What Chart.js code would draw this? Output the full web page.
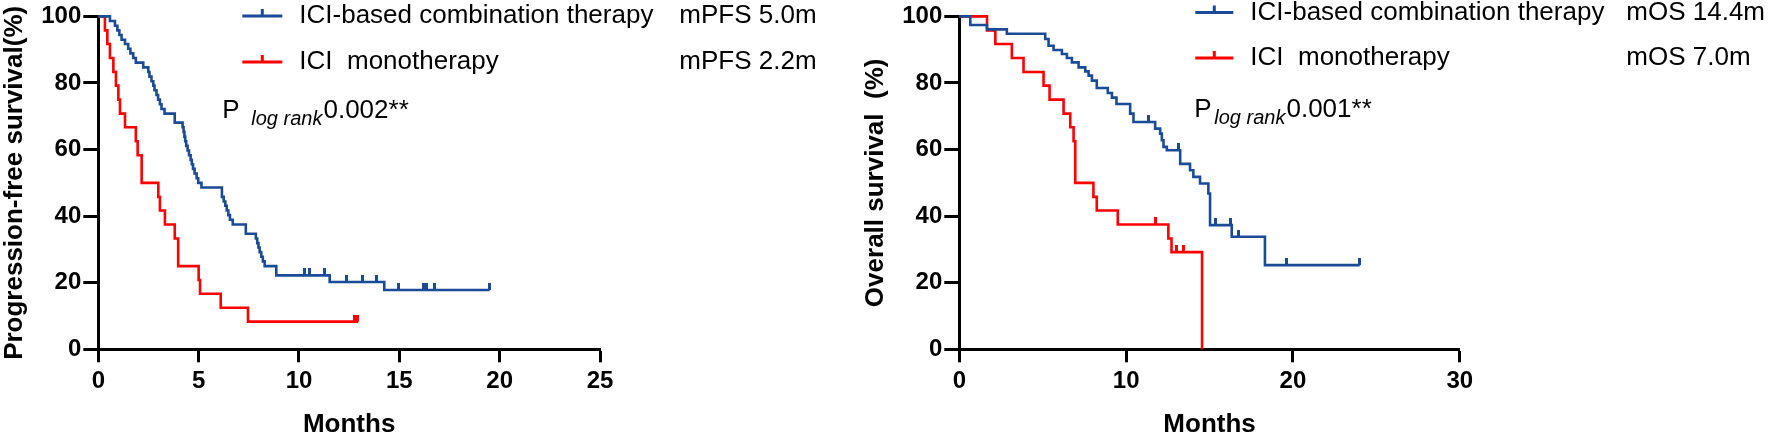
<!DOCTYPE html>
<html>
<head>
<meta charset="utf-8">
<script src="https://cdn.jsdelivr.net/npm/chart.js@4.4.1/dist/chart.umd.min.js"></script>
<style>
html, body { margin: 0; padding: 0; background: #fff; }
#wrap { position: relative; width: 1772px; height: 435px; overflow: hidden; }
canvas { position: absolute; top: 0; }
</style>
</head>
<body>
<div id="wrap">
  <canvas id="pfs" width="861" height="435" style="left:0;width:861px;height:435px"></canvas>
  <canvas id="os" width="911" height="435" style="left:861px;width:911px;height:435px"></canvas>
</div>
<script>
// Kaplan-Meier steps (months, survival %)
var pfsComboTime = [0, 0.58, 0.83, 0.95, 1.05, 1.16, 1.33, 1.49, 1.60, 1.74, 1.87, 2.24, 2.49, 2.55, 2.65, 2.74, 2.80, 2.90, 2.98, 3.07, 3.15, 3.30, 3.81, 4.20, 4.25, 4.29, 4.33, 4.38, 4.45, 4.52, 4.60, 4.66, 4.72, 4.80, 4.90, 4.98, 5.14, 6.16, 6.25, 6.33, 6.40, 6.48, 6.56, 6.70, 7.35, 7.85, 7.92, 7.98, 8.04, 8.12, 8.20, 8.29, 8.87, 11.53, 14.25, 19.5];
var pfsComboSurv = [100, 98.6, 97.2, 95.8, 94.4, 93.0, 91.7, 90.3, 88.9, 87.5, 86.1, 84.7, 83.3, 81.9, 80.5, 79.2, 77.8, 76.4, 75.0, 73.6, 72.2, 70.8, 68.1, 66.7, 65.3, 63.9, 62.5, 61.1, 59.7, 58.3, 56.9, 55.6, 54.2, 52.8, 51.4, 50.0, 48.6, 45.8, 44.4, 43.1, 41.7, 40.3, 38.9, 37.5, 34.7, 33.3, 31.9, 30.6, 29.2, 27.8, 26.4, 25.0, 22.2, 20.2, 17.8, 17.8];
var pfsComboCensor = [10.29, 10.54, 11.29, 12.36, 13.19, 13.85, 14.94, 16.2, 16.35, 16.77, 19.5];

var pfsMonoTime = [0, 0.33, 0.45, 0.58, 0.75, 0.88, 1.0, 1.08, 1.33, 1.87, 1.96, 2.16, 2.99, 3.07, 3.32, 3.81, 3.98, 5.0, 5.07, 6.1, 7.46, 12.94];
var pfsMonoSurv = [100, 95.8, 91.7, 87.5, 83.3, 79.2, 75.0, 70.8, 66.7, 62.5, 58.3, 50.0, 45.8, 41.7, 37.5, 33.3, 25.0, 20.8, 16.7, 12.5, 8.3, 8.3];
var pfsMonoCensor = [12.77, 12.94];

var osComboTime = [0, 0.66, 1.66, 2.85, 5.15, 5.35, 5.65, 6.15, 6.45, 6.75, 7.15, 7.55, 7.75, 7.95, 8.24, 8.9, 9.15, 9.42, 10.24, 10.44, 11.74, 12.04, 12.14, 12.24, 12.44, 13.24, 13.83, 14.03, 14.43, 14.93, 15.03, 16.33, 18.32, 24.0];
var osComboSurv = [100, 97.4, 96.1, 94.8, 93.2, 91.2, 89.9, 88.7, 87.5, 86.2, 84.7, 83.5, 82.2, 80.7, 78.5, 77.0, 75.6, 73.7, 70.8, 68.3, 66.3, 64.8, 62.8, 60.8, 59.8, 55.7, 53.8, 51.8, 49.8, 46.8, 37.3, 33.8, 25.3, 25.3];
var osComboCensor = [11.34, 13.14, 15.33, 16.23, 16.73, 19.6, 24.0];

var osMonoTime = [0, 1.66, 2.16, 3.15, 3.85, 5.05, 5.41, 6.25, 6.65, 6.85, 6.95, 8.04, 8.24, 9.5, 12.53, 12.72, 14.55];
var osMonoSurv = [100, 95.8, 91.7, 87.5, 83.3, 79.2, 75.0, 70.8, 66.7, 62.5, 50.0, 45.8, 41.7, 37.5, 33.3, 29.2, 0];
var osMonoCensor = [11.74, 13.02, 13.42];

// texts
var seriesNames = ['ICI-based combination therapy', 'ICI  monotherapy'];
var pfsMedians = ['mPFS 5.0m', 'mPFS 2.2m'];
var osMedians = ['mOS 14.4m', 'mOS 7.0m'];
var pfsPValue = '0.002**';
var osPValue = '0.001**';
var pfsXTicks = [0, 25, 5];
var osXTicks = [0, 30, 10];

var BLUE = '#1b4a96';
var RED = '#ff0000';
var FONT = 'Arial, "Liberation Sans", sans-serif';

function toPoints(times, surv) {
  return times.map(function (t, i) { return { x: t, y: surv[i] }; });
}

// survival level of a curve at time t (for placing censor marks)
function survAt(times, surv, t) {
  var v = surv[0];
  for (var i = 0; i < times.length; i++) {
    if (times[i] <= t) v = surv[i];
  }
  return v;
}

function censorPoints(cens, times, surv) {
  return cens.map(function (t) { return { x: t, y: survAt(times, surv, t) }; });
}

// small upward tick used as censor mark
function censorMark(color) {
  var c = document.createElement('canvas');
  c.width = 3;
  c.height = 14;
  var g = c.getContext('2d');
  g.fillStyle = color;
  g.fillRect(0, 0, 3, 7);
  return c;
}

// legend, medians and log-rank p drawn next to the plot
var kmNotes = {
  id: 'kmNotes',
  afterDraw: function (chart, args, o) {
    var ctx = chart.ctx;
    var L = chart.chartArea.left;
    ctx.save();
    [BLUE, RED].forEach(function (col, i) {
      var y = o.rowY[i];
      ctx.strokeStyle = col;
      ctx.lineWidth = 3;
      ctx.beginPath();
      ctx.moveTo(L + o.lineX[0], y);
      ctx.lineTo(L + o.lineX[1], y);
      var mx = L + (o.lineX[0] + o.lineX[1]) / 2;
      ctx.moveTo(mx, y);
      ctx.lineTo(mx, y - 7);
      ctx.stroke();
      ctx.fillStyle = '#000';
      ctx.font = '26px ' + FONT;
      ctx.textBaseline = 'middle';
      ctx.textAlign = 'left';
      ctx.fillText(seriesNames[i], L + o.textX, y);
      ctx.fillText(o.medians[i], L + o.medX, y);
    });
    ctx.textBaseline = 'alphabetic';
    ctx.font = '26px ' + FONT;
    ctx.fillText('P', L + o.pX, o.pY);
    ctx.font = 'italic 20px ' + FONT;
    var sx = L + o.pX + o.subDx;
    ctx.fillText('log rank', sx, o.subY);
    var w = ctx.measureText('log rank').width;
    ctx.font = '26px ' + FONT;
    ctx.fillText(o.pValue, sx + w + 1, o.pY);
    ctx.restore();
  }
};

function makeChart(id, combo, mono, xt, yTitle, notes, padRight) {
  var tickFont = { family: FONT, size: 24, weight: 'bold' };
  return new Chart(document.getElementById(id), {
    type: 'line',
    data: {
      datasets: [
        { data: toPoints(combo[0], combo[1]), borderColor: BLUE, borderWidth: 2.6, stepped: 'before', pointRadius: 0, fill: false, clip: false },
        { data: toPoints(mono[0], mono[1]), borderColor: RED, borderWidth: 2.6, stepped: 'before', pointRadius: 0, fill: false, clip: false },
        { data: censorPoints(combo[2], combo[0], combo[1]), showLine: false, pointStyle: censorMark(BLUE), pointRadius: 3, clip: false },
        { data: censorPoints(mono[2], mono[0], mono[1]), showLine: false, pointStyle: censorMark(RED), pointRadius: 3, clip: false }
      ]
    },
    options: {
      responsive: false,
      animation: false,
      events: [],
      layout: { padding: { left: 0, right: padRight, top: 15.7, bottom: 0 } },
      plugins: { legend: { display: false }, tooltip: { enabled: false }, kmNotes: notes },
      scales: {
        x: {
          type: 'linear', min: xt[0], max: xt[1],
          afterFit: function (s) { s.height = 85.7; },
          ticks: { stepSize: xt[2], color: '#000', font: tickFont, padding: 4.5, maxRotation: 0 },
          grid: { drawOnChartArea: false, drawTicks: true, tickLength: 13, tickWidth: 3, tickColor: '#000', color: '#000' },
          border: { display: true, color: '#000', width: 3 },
          title: { display: true, text: 'Months', color: '#000', padding: 0, font: { family: FONT, size: 26, weight: 'bold', lineHeight: 0.8 } }
        },
        y: {
          min: 0, max: 100,
          afterFit: function (s) { s.width = 98.3; },
          ticks: { stepSize: 20, color: '#000', font: tickFont, padding: 2 },
          grid: { drawOnChartArea: false, drawTicks: true, tickLength: 15, tickWidth: 3, tickColor: '#000', color: '#000' },
          border: { display: true, color: '#000', width: 3 },
          title: { display: true, text: yTitle, color: '#000', padding: { top: 4, bottom: 0 }, font: { family: FONT, size: 26, weight: 'bold', lineHeight: 0.8 } }
        }
      }
    },
    plugins: [kmNotes]
  });
}

makeChart('pfs',
  [pfsComboTime, pfsComboSurv, pfsComboCensor],
  [pfsMonoTime, pfsMonoSurv, pfsMonoCensor],
  pfsXTicks, 'Progression-free survival(%)',
  { rowY: [16, 62], lineX: [144, 184], textX: 201, medX: 581, medians: pfsMedians,
    pX: 124, pY: 118, subDx: 29, subY: 125, pValue: pfsPValue },
  261);

makeChart('os',
  [osComboTime, osComboSurv, osComboCensor],
  [osMonoTime, osMonoSurv, osMonoCensor],
  osXTicks, 'Overall survival  (%)',
  { rowY: [12.5, 58], lineX: [236, 274], textX: 291, medX: 667, medians: osMedians,
    pX: 235, pY: 117, subDx: 20, subY: 123.5, pValue: osPValue },
  312.2);
</script>
</body>
</html>
